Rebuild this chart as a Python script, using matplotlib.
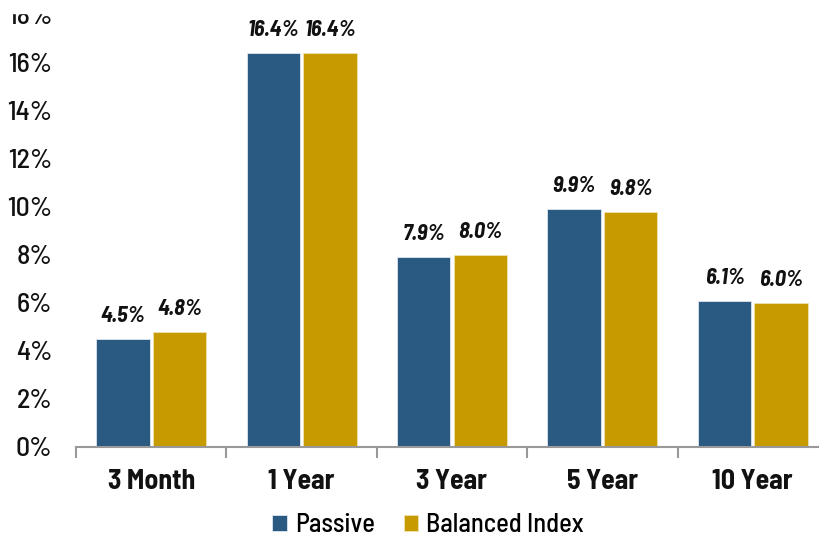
import matplotlib
matplotlib.use("Agg")
import matplotlib.pyplot as plt
from matplotlib.patches import Rectangle
import numpy as np

AZUL = "#2a5a82"   # Passive
OURO = "#c79b00"   # Balanced Index
FONTE = ["Barlow Semi Condensed", "DejaVu Sans"]

periodos = ["3 Month", "1 Year", "3 Year", "5 Year", "10 Year"]
passive = [4.5, 16.4, 7.9, 9.9, 6.1]
balanced = [4.8, 16.4, 8.0, 9.8, 6.0]
yticks = [0, 2, 4, 6, 8, 10, 12, 14, 16, 18]

plt.rcParams["font.family"] = FONTE

fig = plt.figure(figsize=(8.19, 5.39), dpi=100)
ax = fig.add_axes([76 / 819, 1 - 447 / 539, (828 - 76) / 819, (447 - 15) / 539])

x = np.arange(len(periodos))
larg = 0.356
b1 = ax.bar(x - larg / 2 - 0.01, passive, larg, color=AZUL, edgecolor="#dfe6ee", lw=0.6,
            label="Passive")
b2 = ax.bar(x + larg / 2 + 0.01, balanced, larg, color=OURO, edgecolor="#f0e2b0", lw=0.6,
            label="Balanced Index")

for barras, vals in ((b1, passive), (b2, balanced)):
    for b, v in zip(barras, vals):
        ax.annotate(f"{v:.1f}%", (b.get_x() + b.get_width() / 2, v),
                    textcoords="offset points", xytext=(0, 16.5), ha="center", va="center",
                    fontsize=16, fontweight="bold", fontstyle="italic", color="#111111")

ax.set_xlim(-0.5, 4.5)
ax.set_ylim(0, 18)
ax.set_yticks(yticks)
ax.set_yticklabels([f"{t}%" for t in yticks], fontweight="medium")
ax.set_xticks(x)
ax.set_xticklabels(periodos, fontweight="bold")
ax.set_xticks(np.arange(-0.5, 5, 1), minor=True)

ax.tick_params(axis="y", length=0, pad=17, labelsize=20, labelcolor="#111111")
ax.tick_params(axis="x", which="major", length=0, pad=16, labelsize=20, labelcolor="#111111")
ax.tick_params(axis="x", which="minor", length=8, width=1.5, color="#999999")

for s in ("left", "right", "top"):
    ax.spines[s].set_visible(False)
ax.spines["bottom"].set_color("#999999")
ax.spines["bottom"].set_linewidth(1.5)

leg = fig.legend(handles=[b1, b2], loc="center", bbox_to_anchor=(428 / 819, 1 - 525 / 539),
                 ncol=2, frameon=False, fontsize=19, handlelength=0.55, handleheight=0.55,
                 handletextpad=0.3, columnspacing=1.1, borderpad=0.1)
for t in leg.get_texts():
    t.set_fontweight("medium")

# a imagem original esta cortada no topo (metade de cima do "18%" some)
fig.patches.append(Rectangle((0, 1 - 13 / 539), 1, 13 / 539, transform=fig.transFigure,
                             color="white", zorder=10))

fig.savefig("out.png", dpi=100)
